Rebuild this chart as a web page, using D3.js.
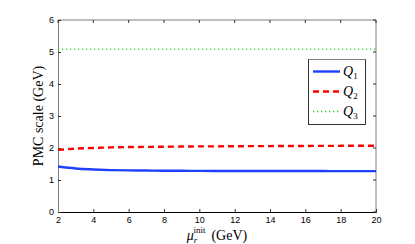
<!DOCTYPE html>
<html><head><meta charset="utf-8">
<script src="https://cdn.jsdelivr.net/npm/d3@7"></script>
<style>body{margin:0;background:#fff}svg{display:block}</style>
</head><body>
<svg id="c" width="415" height="244"></svg>
<script>
const xVals = [2,3,4,5,6,7,8,9,10,11,12,13,14,15,16,17,18,19,20];
const q1 = [1.42,1.36,1.33,1.31,1.30,1.295,1.29,1.288,1.285,1.283,1.282,1.281,1.28,1.28,1.279,1.279,1.278,1.278,1.278];
const q2 = [1.94,1.98,2.00,2.02,2.03,2.035,2.04,2.045,2.05,2.052,2.055,2.058,2.06,2.062,2.064,2.066,2.068,2.07,2.072];
const q3 = [5.09,5.09,5.09,5.09,5.09,5.09,5.09,5.09,5.09,5.09,5.09,5.09,5.09,5.09,5.09,5.09,5.09,5.09,5.09];
const xTicks = [2,4,6,8,10,12,14,16,18,20];
const yTicks = [0,1,2,3,4,5,6];
const seriesNames = ["Q1","Q2","Q3"];

const svg = d3.select("#c");
const L=58,R=376,T=20,B=212;
const x = d3.scaleLinear().domain([2,20]).range([L,R]);
const y = d3.scaleLinear().domain([0,6]).range([B,T]);
const gray="#808080";
const tf="Liberation Sans, Arial, sans-serif";
const sf="Liberation Serif, Times New Roman, serif";

// frame
svg.append("line").attr("x1",L).attr("x2",R).attr("y1",T).attr("y2",T).attr("stroke",gray).attr("stroke-width",1);
svg.append("line").attr("x1",R).attr("x2",R).attr("y1",T).attr("y2",B).attr("stroke",gray).attr("stroke-width",1);

const gx = svg.append("g").attr("transform",`translate(0,${B})`)
  .call(d3.axisBottom(x).tickValues(xTicks).tickSize(-3).tickPadding(5).tickFormat(d3.format("d")));
gx.select(".domain").attr("stroke","#000");
const gy = svg.append("g").attr("transform",`translate(${L},0)`)
  .call(d3.axisLeft(y).tickValues(yTicks).tickSize(-3).tickPadding(4).tickFormat(d3.format("d")));
gy.select(".domain").attr("stroke",gray);
svg.selectAll(".tick text").attr("font-family",tf).attr("font-size",9).attr("fill","#000");
svg.selectAll(".tick line").attr("stroke","#333");
// top & right ticks
svg.append("g").selectAll("line").data(xTicks).join("line")
  .attr("x1",d=>x(d)).attr("x2",d=>x(d)).attr("y1",T).attr("y2",T+3).attr("stroke","#333");
svg.append("g").selectAll("line").data(yTicks).join("line")
  .attr("x1",R).attr("x2",R-3).attr("y1",d=>y(d)).attr("y2",d=>y(d)).attr("stroke","#333");

const line = d3.line().x((d,i)=>x(xVals[i])).y(d=>y(d)).curve(d3.curveMonotoneX);
const styles = [
  {data:q1,color:"#1f3fff",w:2.4,dash:null},
  {data:q2,color:"#ff0000",w:2.4,dash:"6,4"},
  {data:q3,color:"#33cc33",w:1.4,dash:"1.3,2.7"}
];
styles.forEach(s=>{
  svg.append("path").datum(s.data).attr("d",line).attr("fill","none")
    .attr("stroke",s.color).attr("stroke-width",s.w).attr("stroke-dasharray",s.dash);
});

// legend
const lg = svg.append("g");
lg.append("rect").attr("x",308.5).attr("y",59.5).attr("width",57).attr("height",65)
  .attr("fill","#fff").attr("stroke","#000").attr("stroke-width",0.8);
lg.append("line").attr("x1",308.5).attr("x2",365.5).attr("y1",59.5).attr("y2",59.5).attr("stroke",gray).attr("stroke-width",1.2);
const rows=[71.5,91.5,111.5];
styles.forEach((s,i)=>{
  lg.append("line").attr("x1",313).attr("x2",340).attr("y1",rows[i]).attr("y2",rows[i])
    .attr("stroke",s.color).attr("stroke-width",s.w).attr("stroke-dasharray",s.dash);
  const t = lg.append("text").attr("x",343).attr("y",rows[i]+4).attr("font-family",sf).attr("font-size",14);
  t.append("tspan").attr("font-style","italic").text(seriesNames[i][0]);
  t.append("tspan").attr("font-size",9).attr("dy",3).text(seriesNames[i].slice(1));
});

// axis labels
svg.append("text").attr("transform",`translate(43,${(T+B)/2}) rotate(-90)`).attr("text-anchor","middle")
  .attr("font-family",sf).attr("font-size",14).text("PMC scale (GeV)");
const xl = svg.append("text").attr("x",(L+R)/2).attr("y",240).attr("text-anchor","middle")
  .attr("font-family",sf).attr("font-size",14);
xl.append("tspan").attr("font-style","italic").text("μ");
xl.append("tspan").attr("font-size",9).attr("dy",3).attr("font-style","italic").text("r");
xl.append("tspan").attr("font-size",9).attr("dy",-10).attr("dx",-4).text("init");
xl.append("tspan").attr("dy",7).attr("dx",6).text("(GeV)");
</script>
</body></html>
